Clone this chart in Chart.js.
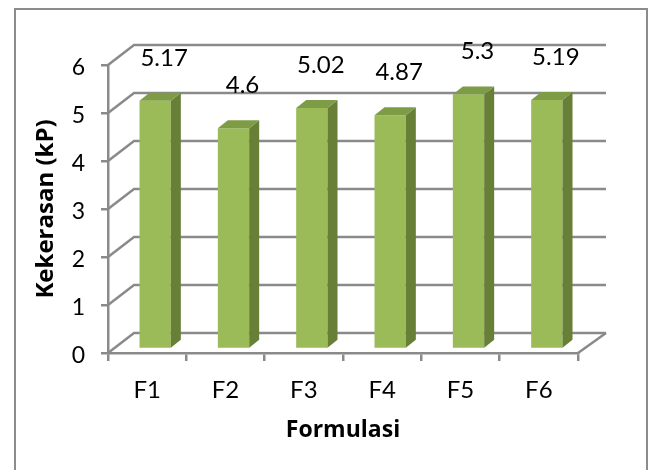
<!DOCTYPE html>
<html>
<head>
<meta charset="utf-8">
<style>
  html, body { margin: 0; padding: 0; background: #ffffff; }
  #wrap { width: 653px; height: 470px; position: relative; }
</style>
<script src="https://cdn.jsdelivr.net/npm/chart.js@4/dist/chart.umd.min.js"></script>
</head>
<body>
<div id="wrap"><canvas id="chart" width="653" height="470"></canvas></div>
<script>
// Tablet hardness per formulation
const categories = ['F1', 'F2', 'F3', 'F4', 'F5', 'F6'];
const hardness = [5.17, 4.6, 5.02, 4.87, 5.3, 5.19];
const yTicks = [0, 1, 2, 3, 4, 5, 6];

const GRID = '#8a8a8a';
const FRONT = '#9bbb59';
const TOP = '#7e9c45';
const SIDE = '#677f36';

// depth of the box behind the plot and of each column
const WALL_DX = 26, WALL_DY = -20;
const BAR_SHIFT_X = 8, BAR_SHIFT_Y = -4;
const BAR_DX = 10, BAR_DY = -8;

const frame = {
  id: 'frame',
  beforeDraw(chart) {
    const c = chart.ctx;
    c.save();
    c.fillStyle = '#ffffff';
    c.fillRect(0, 0, chart.width, chart.height);
    c.strokeStyle = '#8c8c8c';
    c.lineWidth = 2;
    c.strokeRect(15, 9, 632, 480);
    c.restore();
  }
};

// back wall, side wall and floor lines
const box3d = {
  id: 'box3d',
  beforeDatasetsDraw(chart) {
    const c = chart.ctx;
    const y = chart.scales.y, a = chart.chartArea;
    c.save();
    c.strokeStyle = GRID;
    c.lineWidth = 2.5;
    c.lineCap = 'butt';
    yTicks.forEach(v => {
      const py = y.getPixelForValue(v);
      c.beginPath();
      c.moveTo(a.left, py);
      c.lineTo(a.left + WALL_DX, py + WALL_DY);
      c.lineTo(a.right + WALL_DX + 2, py + WALL_DY);
      c.stroke();
    });
    const p0 = y.getPixelForValue(0);
    c.beginPath();
    c.moveTo(a.right, p0);
    c.lineTo(a.right + WALL_DX + 2, p0 + WALL_DY);
    c.stroke();
    c.restore();
    // columns sit a little into the box
    c.save();
    c.translate(BAR_SHIFT_X, BAR_SHIFT_Y);
  },
  afterDatasetsDraw(chart) {
    const c = chart.ctx;
    c.restore();
    const meta = chart.getDatasetMeta(0);
    c.save();
    c.translate(BAR_SHIFT_X, BAR_SHIFT_Y);
    meta.data.forEach(bar => {
      const { x, y, base, width } = bar.getProps(['x', 'y', 'base', 'width'], true);
      const l = x - width / 2, r = x + width / 2;
      c.fillStyle = SIDE;
      c.beginPath();
      c.moveTo(r, y);
      c.lineTo(r + BAR_DX, y + BAR_DY);
      c.lineTo(r + BAR_DX, base + BAR_DY);
      c.lineTo(r, base);
      c.closePath();
      c.fill();
      c.fillStyle = TOP;
      c.beginPath();
      c.moveTo(l, y);
      c.lineTo(l + BAR_DX, y + BAR_DY);
      c.lineTo(r + BAR_DX, y + BAR_DY);
      c.lineTo(r, y);
      c.closePath();
      c.fill();
    });
    c.restore();
    // value labels
    c.save();
    c.fillStyle = '#000';
    c.font = '24px Lato';
    c.textAlign = 'center';
    c.textBaseline = 'middle';
    meta.data.forEach((bar, i) => {
      c.fillText(String(hardness[i]), bar.x + 17, bar.y - 47);
    });
    c.restore();
  }
};

new Chart(document.getElementById('chart'), {
  type: 'bar',
  data: {
    labels: categories,
    datasets: [{
      data: hardness,
      backgroundColor: FRONT,
      borderWidth: 0,
      categoryPercentage: 1,
      barPercentage: 0.4
    }]
  },
  options: {
    responsive: false,
    animation: false,
    devicePixelRatio: 1,
    layout: { padding: { top: 65, right: 75, bottom: 0, left: 0 } },
    plugins: { legend: { display: false }, tooltip: { enabled: false } },
    scales: {
      x: {
        grid: { drawOnChartArea: false, drawTicks: true, tickLength: 8, color: GRID, lineWidth: 2.5, offset: true },
        border: { display: true, color: GRID, width: 2.5 },
        ticks: { color: '#000', font: { family: 'Lato', size: 24 }, padding: 15 },
        title: {
          display: true, text: 'Formulasi', color: '#000',
          font: { family: 'Open Sans', size: 23, weight: 'bold' },
          padding: { top: 0, bottom: 26 }
        },
        afterFit(s) { s.height = 117; }
      },
      y: {
        min: 0, max: 6,
        grid: { drawOnChartArea: false, drawTicks: true, tickLength: 7, color: GRID, lineWidth: 2.5 },
        border: { display: true, color: GRID, width: 2.5 },
        ticks: { stepSize: 1, color: '#000', font: { family: 'Lato', size: 23 }, padding: 16, labelOffset: 3 },
        title: {
          display: true, text: 'Kekerasan (kP)', color: '#000',
          font: { family: 'Open Sans', size: 24, weight: 'bold' },
          padding: { top: 32, bottom: 0 }
        },
        afterFit(s) { s.width = 108; }
      }
    }
  },
  plugins: [frame, box3d]
});
</script>
</body>
</html>
